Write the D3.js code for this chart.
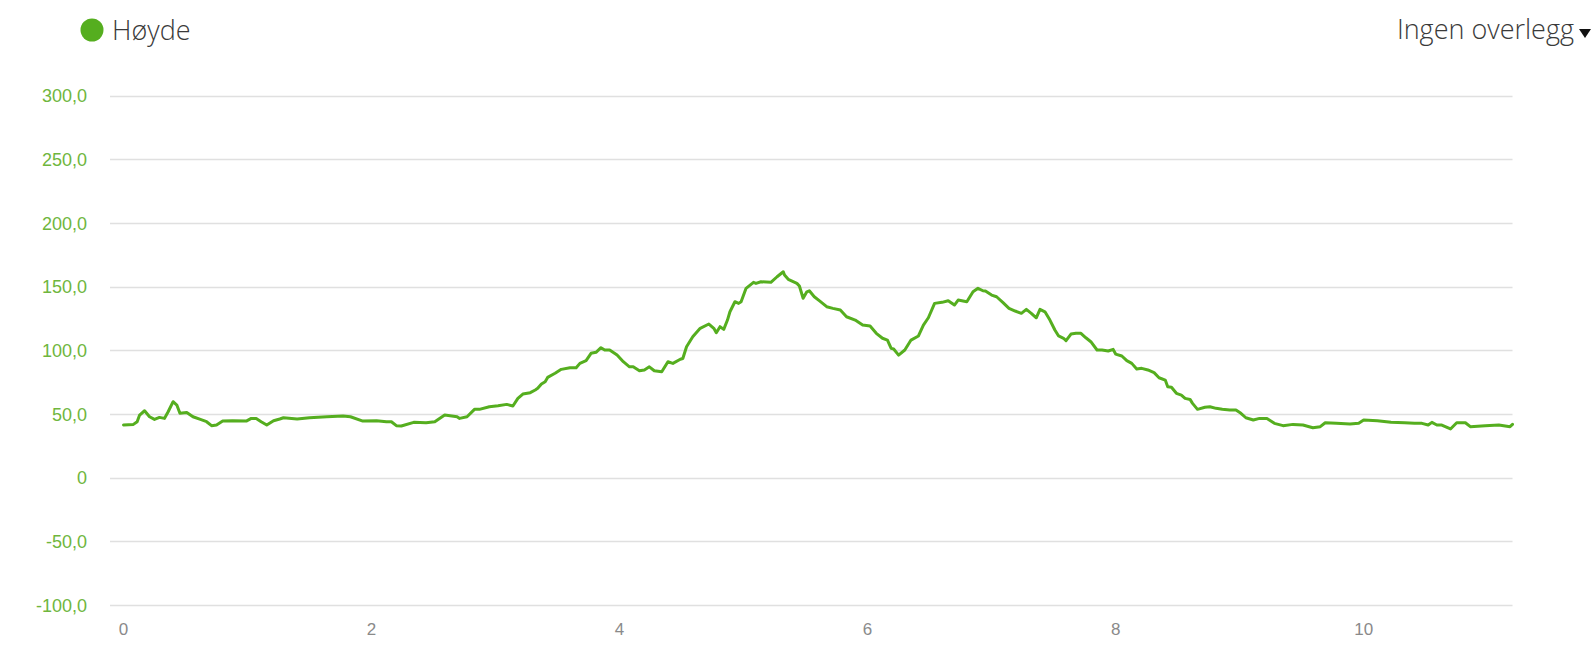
<!DOCTYPE html>
<html>
<head>
<meta charset="utf-8">
<script src="https://cdn.jsdelivr.net/npm/d3@7"></script>
<style>
  html, body { margin: 0; padding: 0; background: #fff; }
  svg { display: block; }
</style>
</head>
<body>
<svg id="chart" width="1596" height="665"></svg>
<script>
// ---- data ----
const distanceKm = [0.00,0.08,0.11,0.13,0.17,0.21,0.25,0.29,0.33,0.36,0.40,0.43,0.455,0.51,0.56,0.62,0.67,0.71,0.75,0.80,0.88,0.99,1.03,1.07,1.11,1.155,1.21,1.26,1.29,1.40,1.50,1.64,1.77,1.83,1.93,2.04,2.12,2.16,2.20,2.24,2.34,2.44,2.51,2.59,2.69,2.71,2.77,2.83,2.87,2.95,3.02,3.09,3.14,3.18,3.22,3.28,3.32,3.34,3.37,3.40,3.42,3.48,3.53,3.60,3.65,3.68,3.73,3.77,3.81,3.85,3.88,3.92,3.98,4.03,4.08,4.11,4.16,4.20,4.24,4.28,4.34,4.39,4.43,4.49,4.51,4.54,4.59,4.65,4.72,4.76,4.78,4.81,4.84,4.87,4.89,4.93,4.96,4.98,5.02,5.08,5.10,5.14,5.22,5.27,5.32,5.33,5.36,5.43,5.45,5.48,5.51,5.53,5.57,5.61,5.67,5.72,5.78,5.83,5.90,5.96,6.02,6.07,6.12,6.16,6.19,6.21,6.25,6.30,6.35,6.41,6.45,6.49,6.54,6.60,6.65,6.70,6.73,6.80,6.85,6.89,6.93,6.95,7.00,7.04,7.09,7.14,7.19,7.24,7.28,7.32,7.36,7.39,7.43,7.47,7.51,7.54,7.58,7.60,7.64,7.68,7.72,7.76,7.80,7.85,7.89,7.94,7.98,8.00,8.05,8.09,8.13,8.17,8.21,8.26,8.31,8.35,8.40,8.42,8.45,8.49,8.53,8.56,8.60,8.62,8.66,8.72,8.76,8.81,8.86,8.92,8.97,9.01,9.05,9.11,9.16,9.22,9.28,9.35,9.43,9.51,9.59,9.65,9.69,9.78,9.89,9.96,10.00,10.11,10.22,10.33,10.41,10.47,10.52,10.55,10.59,10.63,10.70,10.75,10.82,10.86,10.98,11.09,11.18,11.20];
const elevation = [41.3,41.8,43.9,49.1,52.5,47.8,45.7,47.3,46.5,51.7,59.6,57.0,50.5,51.2,47.8,45.7,43.9,40.8,41.3,44.4,44.7,44.4,46.5,46.5,43.9,41.3,44.7,46.0,47.0,46.0,47.0,47.8,48.4,47.8,44.4,44.7,43.9,43.9,40.8,40.5,43.4,43.1,43.9,49.1,47.8,46.5,47.8,53.6,53.6,55.7,56.5,57.5,56.2,62.2,65.6,66.7,68.8,70.1,73.5,75.3,78.7,81.9,85.0,86.3,86.3,89.7,91.8,97.6,98.4,102.0,100.2,100.2,96.2,91.0,87.0,87.0,83.9,84.5,87.0,83.9,83.1,91.0,89.7,92.9,93.5,102.8,110.6,117.2,120.6,117.2,113.8,118.5,116.4,123.7,130.2,138.1,136.8,138.1,148.6,153.3,152.5,153.8,153.3,157.7,161.6,159.0,155.7,152.5,150.4,140.8,145.9,146.7,142.0,138.9,134.2,132.9,131.6,126.3,123.7,119.8,119.0,113.3,109.4,108.0,101.5,101.0,96.2,100.2,108.0,111.2,119.8,125.5,136.8,137.6,138.9,135.5,139.4,138.1,145.9,148.6,146.7,146.5,143.3,142.0,137.6,132.9,130.8,129.0,132.1,129.0,125.5,132.1,130.2,123.7,115.9,111.2,109.4,107.5,112.7,113.3,113.3,109.8,106.7,100.2,100.2,99.4,100.7,97.0,95.5,91.8,89.7,85.3,85.8,84.5,82.4,78.4,76.6,71.4,71.0,66.2,64.8,62.2,61.4,58.3,53.6,55.2,55.7,54.4,53.6,53.1,53.1,50.5,47.0,45.2,46.5,46.5,42.6,40.8,41.8,41.3,39.2,40.0,43.1,42.6,42.1,42.6,45.2,44.7,43.4,43.1,42.6,42.6,41.3,43.4,41.3,41.3,38.2,43.1,43.1,40.0,40.8,41.3,40.0,41.8];
const yTicks = [-100,-50,0,50,100,150,200,250,300];
const yTickLabels = ["-100,0","-50,0","0","50,0","100,0","150,0","200,0","250,0","300,0"];
const xTicks = [0,2,4,6,8,10];
const xTickLabels = ["0","2","4","6","8","10"];
const seriesName = "Høyde";
const overlayLabel = "Ingen overlegg";

// ---- drawing ----
const svg = d3.select("#chart");
const green = "#55ae1f";
const labelGreen = "#6fb63d";

const x = d3.scaleLinear().domain([0, 11.2]).range([123.5, 1512.5]);
const y = d3.scaleLinear().domain([-100, 300]).range([605, 95.5]);
const gridLeft = 110, gridRight = 1512.5;

// grid lines
svg.append("g").selectAll("line").data(yTicks).join("line")
  .attr("x1", gridLeft).attr("x2", gridRight)
  .attr("y1", d => Math.round(y(d)) + 0.5).attr("y2", d => Math.round(y(d)) + 0.5)
  .attr("stroke", "#e0e0e0").attr("stroke-width", 1.5);

// y labels
svg.append("g").selectAll("text").data(yTicks).join("text")
  .attr("x", 87).attr("y", d => y(d) + 2)
  .attr("text-anchor", "end").attr("dominant-baseline", "middle")
  .attr("font-family", "'Liberation Sans', Arial, sans-serif")
  .attr("font-size", 18).attr("fill", labelGreen)
  .text((d, i) => yTickLabels[i]);

// x labels
svg.append("g").selectAll("text").data(xTicks).join("text")
  .attr("x", d => x(d)).attr("y", 631)
  .attr("text-anchor", "middle").attr("dominant-baseline", "middle")
  .attr("font-family", "'Liberation Sans', Arial, sans-serif")
  .attr("font-size", 17).attr("fill", "#8a8a8a")
  .text((d, i) => xTickLabels[i]);

// line
const pts = distanceKm.map((d, i) => [d, elevation[i]]);
svg.append("path").datum(pts)
  .attr("fill", "none").attr("stroke", green).attr("stroke-width", 3)
  .attr("stroke-linejoin", "round").attr("stroke-linecap", "round")
  .attr("d", d3.line().x(d => x(d[0])).y(d => y(d[1])));

// legend
svg.append("circle").attr("cx", 92).attr("cy", 30).attr("r", 11.5).attr("fill", green);
svg.append("text").attr("x", 112).attr("y", 40)
  .attr("font-family", "'Open Sans', sans-serif").attr("font-size", 27)
  .attr("font-weight", 300)
  .attr("fill", "#3a3a3a").text(seriesName);

// overlay dropdown
svg.append("text").attr("x", 1574).attr("y", 39)
  .attr("text-anchor", "end")
  .attr("font-family", "'Open Sans', sans-serif").attr("font-size", 27)
  .attr("font-weight", 300)
  .attr("fill", "#3a3a3a").text(overlayLabel);
svg.append("path")
  .attr("d", "M1579,29 L1591,29 L1585,38 Z")
  .attr("fill", "#111");
</script>
</body>
</html>
